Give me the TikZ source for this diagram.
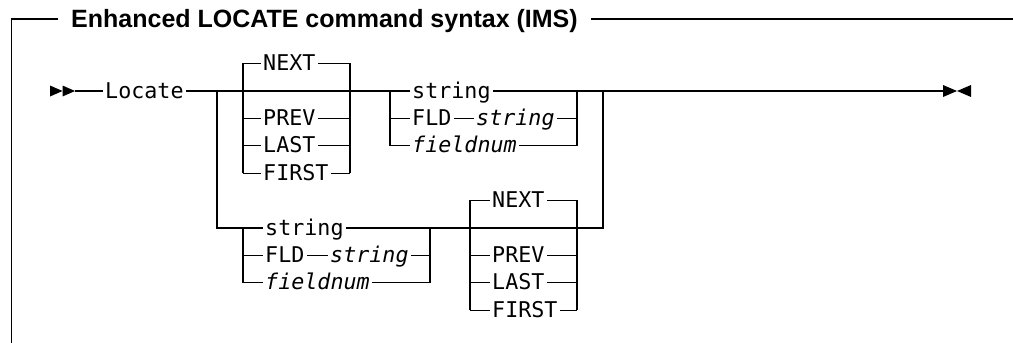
\documentclass[tikz,border=0pt]{standalone}
\usepackage{fontspec}
\newfontfamily\rrfont{DejaVu Sans Mono}
\newfontfamily\ttlfont{Liberation Sans}
\begin{document}
\begin{tikzpicture}[x=1pt,y=-1pt,
  rr/.style={line width=1.2pt},
  frame/.style={line width=1.6pt},
  tok/.style={inner xsep=2.5pt, inner ysep=0pt, text height=14pt, text depth=0pt,
              anchor=west, font=\rrfont\fontsize{21.7}{26}\selectfont},
  itok/.style={tok, font=\rrfont\itshape\fontsize{21.7}{26}\selectfont},
  tip/.style={fill=black, draw=none}]
\useasboundingbox (0,0) rectangle (1013,343);
\def\Rn{63.6}\def\Ra{91}\def\Rb{118.4}\def\Rc{145.8}\def\Rd{173.2}
\def\Re{200.6}\def\Rf{228}\def\Rg{255.4}\def\Rh{282.8}\def\Ri{310.2}
% title and frame
\node[inner xsep=13pt, inner ysep=0pt, text height=17.9pt, text depth=0pt, anchor=west,
      font=\ttlfont\bfseries\fontsize{25}{30}\selectfont] (title) at (58,19)
      {Enhanced LOCATE command syntax (IMS)};
\draw[frame] (title.west) -- (11.5,19) -- (11.5,350);
\draw[frame] (title.east) -- (1013,19);
% column coordinates
\coordinate (start) at (75,\Ra);
\coordinate (stop) at (943,\Ra);
\coordinate (j1) at (217,\Ra);
\coordinate (j2) at (603,\Ra);
\coordinate (aL) at (243,0); \coordinate (aR) at (350,0);
\coordinate (bL) at (390,0); \coordinate (bR) at (577,0);
\coordinate (cL) at (243,0); \coordinate (cR) at (430,0);
\coordinate (dL) at (470,0); \coordinate (dR) at (577,0);
% tokens
\node[tok] (locate) at (102.5,\Ra) {Locate};
\node[tok] (nextA) at (260.5,\Rn) {NEXT};
\node[tok] (prevA) at (260.5,\Rb) {PREV};
\node[tok] (lastA) at (260.5,\Rc) {LAST};
\node[tok] (firstA) at (260.5,\Rd) {FIRST};
\node[tok] (strB) at (409.5,\Ra) {string};
\node[tok] (fldB) at (409.5,\Rb) {FLD};
\node[itok] (strB2) at (473.5,\Rb) {string};
\node[itok] (fnumB) at (409.5,\Rc) {fieldnum};
\node[tok] (strC) at (262.5,\Rf) {string};
\node[tok] (fldC) at (262.5,\Rg) {FLD};
\node[itok] (strC2) at (327.5,\Rg) {string};
\node[itok] (fnumC) at (262.5,\Rh) {fieldnum};
\node[tok] (nextD) at (489.5,\Re) {NEXT};
\node[tok] (prevD) at (489.5,\Rg) {PREV};
\node[tok] (lastD) at (489.5,\Rh) {LAST};
\node[tok] (firstD) at (489.5,\Ri) {FIRST};
% start and end marks
\fill[tip] (50,85.5) -- (62.5,91) -- (50,96.5) -- cycle;
\fill[tip] (62.5,85.5) -- (75,91) -- (62.5,96.5) -- cycle;
\fill[tip] (943,85) -- (957,91) -- (943,97) -- cycle;
\fill[tip] (971,85) -- (957,91) -- (971,97) -- cycle;
% main line
\draw[rr] (start) -- (locate.west);
\draw[rr] (locate.east) -- (strB.west);
\draw[rr] (strB.east) -- (stop);
% group A
\draw[rr] (aL |- firstA) -- (aL |- nextA) -- (nextA.west);
\draw[rr] (nextA.east) -- (aR |- nextA) -- (aR |- firstA);
\draw[rr] (aL |- prevA) -- (prevA.west);  \draw[rr] (prevA.east) -- (aR |- prevA);
\draw[rr] (aL |- lastA) -- (lastA.west);  \draw[rr] (lastA.east) -- (aR |- lastA);
\draw[rr] (aL |- firstA) -- (firstA.west); \draw[rr] (firstA.east) -- (aR |- firstA);
% group B
\draw[rr] (bL |- strB) -- (bL |- fnumB) -- (fnumB.west);
\draw[rr] (fnumB.east) -- (bR |- fnumB) -- (bR |- strB);
\draw[rr] (bL |- fldB) -- (fldB.west);
\draw[rr] (fldB.east) -- (strB2.west);
\draw[rr] (strB2.east) -- (bR |- strB2);
% lower branch
\draw[rr] (j1) -- (j1 |- strC) -- (strC.west);
\draw[rr] (strC.east) -- (j2 |- strC) -- (j2);
% group C
\draw[rr] (cL |- strC) -- (cL |- fnumC) -- (fnumC.west);
\draw[rr] (fnumC.east) -- (cR |- fnumC) -- (cR |- strC);
\draw[rr] (cL |- fldC) -- (fldC.west);
\draw[rr] (fldC.east) -- (strC2.west);
\draw[rr] (strC2.east) -- (cR |- strC2);
% group D
\draw[rr] (dL |- firstD) -- (dL |- nextD) -- (nextD.west);
\draw[rr] (nextD.east) -- (dR |- nextD) -- (dR |- firstD);
\draw[rr] (dL |- prevD) -- (prevD.west);  \draw[rr] (prevD.east) -- (dR |- prevD);
\draw[rr] (dL |- lastD) -- (lastD.west);  \draw[rr] (lastD.east) -- (dR |- lastD);
\draw[rr] (dL |- firstD) -- (firstD.west); \draw[rr] (firstD.east) -- (dR |- firstD);
\end{tikzpicture}
\end{document}
